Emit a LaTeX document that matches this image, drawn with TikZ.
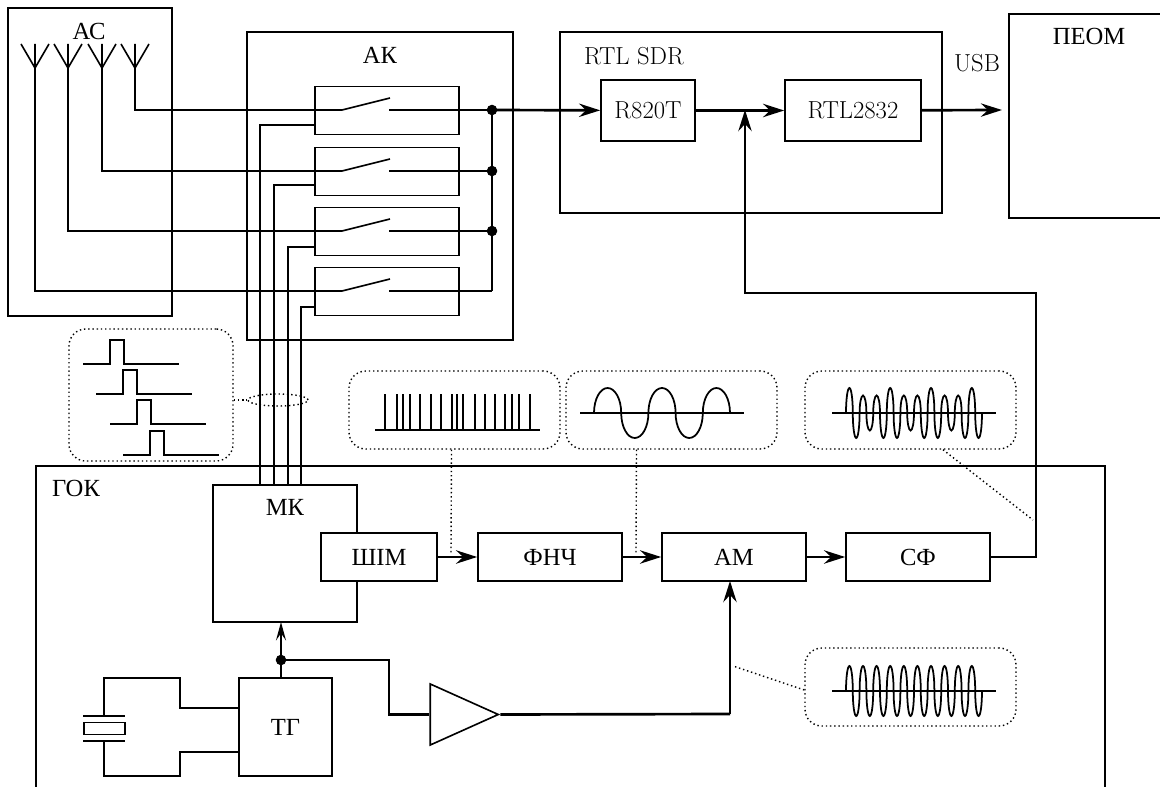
\documentclass[tikz,border=0pt]{standalone}
\usepackage{fontspec}
\usepackage{tikz}
\usetikzlibrary{arrows.meta, shapes.geometric}
\newfontfamily\cyrfont{Liberation Serif}
\tikzset{
    >={Stealth[length=15pt, width=9.5pt, inset=5pt]},
    wire/.style={line width=1.15pt},
    bus/.style={line width=1.9pt},
    signal/.style={line width=1.25pt},
    block/.style={draw, line width=1.15pt, inner sep=0pt, font=\fontsize{17.5}{20}\selectfont},
    tag/.style={inner sep=0pt, font=\fontsize{17.5}{20}\selectfont},
    scope note/.style={draw, dotted, line width=1pt, rounded corners=12pt, inner sep=0pt},
    hint/.style={dotted, line width=1pt},
    dot/.style={circle, fill, inner sep=0pt, minimum size=7.5pt}
}
\begin{document}
\begin{tikzpicture}[x=0.025cm, y=-0.025cm]
    \useasboundingbox (0,0) rectangle (1160,787);
    % frames
    \node[block, minimum width=4.1cm, minimum height=7.7cm] (ac) at (90,162) {};
    \node[block, minimum width=6.65cm, minimum height=7.7cm] (ak) at (380,186) {};
    \node[block, minimum width=9.55cm, minimum height=4.525cm] (sdr) at (751,122.5) {};
    \node[tag] at (89,31) {\cyrfont АС};
    \node[tag] at (380,55) {\cyrfont АК};
    \node[tag] at (634,56) {RTL SDR};
    \node[tag] at (977,63) {USB};
    \node[tag] at (1089,36) {\cyrfont ПЕОМ};
    \draw[wire] (1160,14) -- (1009,14) -- (1009,218) -- (1160,218);
    \coordinate (pcin) at (1002,110);
    \draw[wire] (36,787) -- (36,466) -- (1105,466) -- (1105,787);
    \node[tag] at (76,488) {\cyrfont ГОК};
    % antennas
    \foreach \ax/\ay/\i in {135/110/1, 102/171/2, 68/231/3, 35/291/4} {
        \draw[wire] (\ax-14,44) -- (\ax,68) -- (\ax+14,44);
        \coordinate (ant\i) at (\ax,44);
        \node[block, minimum width=3.6cm, minimum height=1.2cm] (sw\i) at (387,\ay+0.5) {};
        \coordinate (in\i) at (342,\ay);
        \coordinate (blade\i) at (390,\ay-12);
        \coordinate (out\i) at (389,\ay);
        \coordinate (jn\i) at (492,\ay);
        \draw[wire] (ant\i) |- (in\i) -- (blade\i);
    }
    \draw[bus] (out1) -- (jn1);
    \foreach \i in {2,3,4} {\draw[wire, line width=1.5pt] (out\i) -- (jn\i);}
    \draw[bus] (jn1) -- (jn4);
    \foreach \i in {1,2,3} {\node[dot] at (jn\i) {};}
    % blocks
    \node[block, minimum width=2.35cm, minimum height=1.525cm] (tuner) at (648,110.5) {R820T};
    \node[block, minimum width=3.4cm, minimum height=1.525cm] (rtl) at (853,110.5) {RTL2832};
    \node[block, minimum width=3.6cm, minimum height=3.425cm] (mk) at (285,553.5) {};
    \node[tag] at (285,507) {\cyrfont МК};
    \node[block, fill=white, minimum width=2.9cm, minimum height=1.2cm] (pwm) at (379,557) {\cyrfont ШІМ};
    \node[block, minimum width=3.6cm, minimum height=1.2cm] (lpf) at (550,557) {\cyrfont ФНЧ};
    \node[block, minimum width=3.6cm, minimum height=1.2cm] (am) at (734,557) {\cyrfont АМ};
    \node[block, minimum width=3.6cm, minimum height=1.2cm] (sf) at (918,557) {\cyrfont СФ};
    \node[block, minimum width=2.325cm, minimum height=2.45cm] (tg) at (285.5,727) {\cyrfont ТГ};
    \node[block, isosceles triangle, isosceles triangle stretches, shape border rotate=0,
        minimum width=1.525cm, minimum height=1.7cm] (amp) at (450,714.5) {};
    % signal path
    \draw[bus, ->] (jn1) -- (tuner);
    \draw[bus, ->] (tuner) -- (rtl);
    \draw[bus, ->] (rtl) -- (pcin);
    \draw[bus, ->] (pwm) -- (lpf);
    \draw[bus, ->] (lpf) -- (am);
    \draw[bus, ->] (am) -- (sf);
    \coordinate (mix) at (745,110);
    \draw[bus, ->] (sf.east) -| (1036,293) -| (mix);
    % control lines
    \foreach \cx/\cy/\i in {260/125/1, 274/185/2, 288/247/3, 301/307/4} {
        \coordinate (ctl\i) at (\cx,485);
        \draw[wire] (ctl\i) |- (315,\cy);
    }
    % clock
    \coordinate (clk) at (281,660);
    \draw[bus, -{Stealth[length=13pt, width=7pt, inset=5pt]}] (281,678) -- (281,622);
    \node[dot] at (clk) {};
    \draw[wire, line width=1.5pt] (clk) -- (389,660) |- (amp.west);
    \coordinate (lo) at (730,714);
    \draw[bus] (amp.apex) -- (lo);
    \draw[bus, ->] (lo) -- (730,581);
    % crystal
    \coordinate (xt) at (104,716);
    \coordinate (xb) at (104,741);
    \draw[wire] (83,716) -- (125,716) (83,741) -- (125,741);
    \node[draw, line width=1.15pt, inner sep=0pt, minimum width=1.025cm, minimum height=0.3cm] (xtal) at (104.5,728.5) {};
    \draw[wire] (xt) -- (104,678) -- (180,678) -- (180,708) -- (239,708);
    \draw[wire] (xb) -- (104,776) -- (180,776) -- (180,752) -- (239,752);
    % scope pictures
    \node[scope note, minimum width=4.1cm, minimum height=3.3cm] (nsel) at (151,395) {};
    \node[scope note, minimum width=5.275cm, minimum height=1.95cm] (npwm) at (454.5,410) {};
    \node[scope note, minimum width=5.275cm, minimum height=1.95cm] (nsin) at (671.5,410) {};
    \node[scope note, minimum width=5.275cm, minimum height=1.95cm] (nmod) at (910.5,410) {};
    \node[scope note, minimum width=5.275cm, minimum height=1.95cm] (ncar) at (910.5,687) {};
    \node[draw, dotted, line width=1pt, ellipse, minimum width=1.5cm, minimum height=0.3cm, inner sep=0pt] (ring) at (278,400) {};
    \draw[hint] (nsel.east |- ring.west) -- (ring.west);
    \draw[hint] (npwm.south) ++(-3,0) -- (451,554);
    \draw[hint] (nsin.south) ++(-35,0) -- (636,554);
    \draw[hint] (nmod.south) ++(32.5,0) -- (1033,520);
    \draw[hint] (ncar.west) ++(0,3) -- (733,666);
    % pulses
    \foreach \p/\q in {83/364, 96/394, 110/424, 123/455} {
        \draw[signal] (\p,\q) -- (\p+27,\q) -- (\p+27,\q-24) -- (\p+41,\q-24) -- (\p+41,\q) -- (\p+96,\q);
    }
    % pwm
    \draw[signal] (375,430) -- (540,430);
    \foreach \s in {385,397,403,410,420,431,441,452,457,463,475,485,495,505,512,519,530} {
        \draw[signal] (\s,430) -- (\s,394);
    }
    % sine
    \draw[signal] (580,413) -- (744,413);
    \draw[signal] (594,413)
        \foreach \h in {25,-25,25,-25,25} { arc[start angle=180, delta angle=180, x radius=13.6, y radius=\h] };
    % modulated
    \draw[signal] (832,413) -- (996,413);
    \draw[signal] (846,413)
        \foreach \h in {25,-25,17.5,-17.5,17.5,-25,25,-25,17.5,-17.5,17.5,-25,25,-25,17.5,-17.5,17.5,-25,25,-25}
        { arc[start angle=180, delta angle=180, x radius=3.4, y radius=\h] };
    % carrier
    \draw[signal] (832,691) -- (996,691);
    \draw[signal] (846,691)
        \foreach \h in {25,-25,25,-25,25,-25,25,-25,25,-25,25,-25,25,-25,25,-25,25,-25,25,-25}
        { arc[start angle=180, delta angle=180, x radius=3.4, y radius=\h] };
\end{tikzpicture}
\end{document}
